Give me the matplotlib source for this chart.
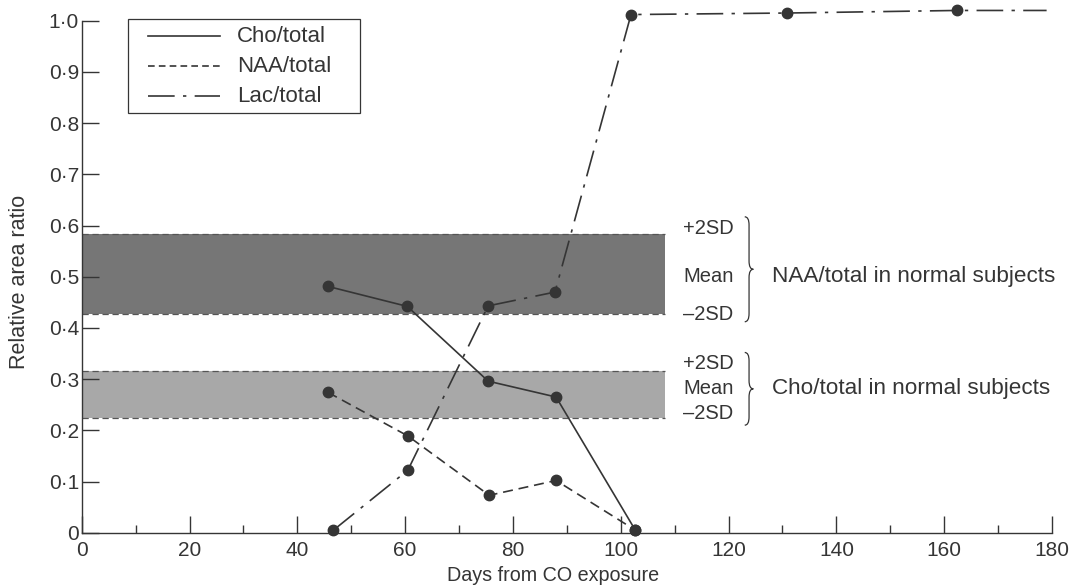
import numpy as np
import matplotlib
matplotlib.use("Agg")
import matplotlib.pyplot as plt
from matplotlib.path import Path
from matplotlib.patches import PathPatch, Rectangle

plt.rcParams['font.family'] = ['Liberation Sans', 'DejaVu Sans']

# values
cho_days = [45.7, 60.4, 75.4, 88.0, 102.7]
cho_vals = [0.481, 0.442, 0.296, 0.265, 0.005]
naa_days = [45.7, 60.5, 75.6, 88.0, 102.7]
naa_vals = [0.274, 0.189, 0.073, 0.102, 0.005]
lac_days = [46.7, 60.5, 75.4, 87.8, 101.9, 130.9, 162.3]
lac_vals = [0.005, 0.122, 0.443, 0.470, 1.012, 1.015, 1.020]
lac_tail_day = 179.0

naa_band = (0.428, 0.583)
cho_band = (0.225, 0.316)
band_end_day = 108.3

series_names = ['Cho/total', 'NAA/total', 'Lac/total']
y_ticks = [0, 0.1, 0.2, 0.3, 0.4, 0.5, 0.6, 0.7, 0.8, 0.9, 1.0]
y_labels = ['0', '0·1', '0·2', '0·3', '0·4', '0·5', '0·6', '0·7', '0·8', '0·9', '1·0']
x_ticks = [0, 20, 40, 60, 80, 100, 120, 140, 160, 180]

ink = '#353535'
lac_dash = (16, 5, 2, 5)
naa_dash = (6, 3.5)

fig = plt.figure(figsize=(10.69, 5.85), dpi=100)
ax = fig.add_axes([81.7 / 1069, 1 - 532.7 / 585, 970.3 / 1069, 512 / 585])
ax.set_xlim(0, 180)
ax.set_ylim(0, 1.0)

# normal ranges
for (lo, hi), col in [(naa_band, '#767676'), (cho_band, '#a8a8a8')]:
    ax.fill_between([0, band_end_day], lo, hi, color=col, lw=0, zorder=1)
    ax.plot([0, band_end_day], [hi, hi], color='#555555', lw=0.9, dashes=(5, 3), zorder=2)
    ax.plot([0, band_end_day], [lo, lo], color='#555555', lw=0.9, dashes=(5, 3), zorder=2)

lw = 1.2
ms = 7.5
ax.plot(cho_days, cho_vals, color=ink, lw=lw, marker='o', ms=ms, clip_on=False, zorder=4)
ax.plot(naa_days, naa_vals, color=ink, lw=lw, marker='o', ms=ms,
        dashes=naa_dash, clip_on=False, zorder=4)
ax.plot(lac_days + [lac_tail_day], lac_vals + [lac_vals[-1]], color=ink, lw=lw,
        dashes=lac_dash, clip_on=False, zorder=4)
ax.plot(lac_days, lac_vals, ls='none', color=ink, marker='o', ms=ms,
        clip_on=False, zorder=5)

# legend box, drawn by hand
ax.add_patch(Rectangle((0.0474, 0.8191), 0.2394, 0.1836, transform=ax.transAxes,
                       fc='white', ec=ink, lw=0.9, clip_on=False, zorder=6))
leg_styles = [dict(), dict(dashes=(4, 2.5)), dict(dashes=lac_dash)]
leg_rows = [0.9701, 0.9115, 0.8529]
for name, style, yy in zip(series_names, leg_styles, leg_rows):
    ax.plot([0.0683, 0.1425], [yy, yy], transform=ax.transAxes, color=ink, lw=lw,
            clip_on=False, zorder=7, **style)
    ax.text(0.160, yy, name, transform=ax.transAxes, fontsize=16, color=ink,
            va='center', zorder=7)


def brace(x, y0, y1, w, d):
    ym = (y0 + y1) / 2
    xm = x + w / 2
    verts = [(x, y1), (xm, y1), (xm, y1 - d), (xm, ym + d), (xm, ym), (x + w, ym),
             (xm, ym), (xm, ym - d), (xm, y0 + d), (xm, y0), (x, y0)]
    codes = [Path.MOVETO, Path.CURVE3, Path.CURVE3, Path.LINETO, Path.CURVE3, Path.CURVE3,
             Path.CURVE3, Path.CURVE3, Path.LINETO, Path.CURVE3, Path.CURVE3]
    ax.add_patch(PathPatch(Path(verts, codes), fill=False, ec=ink, lw=0.9, clip_on=False))


fs_sd = 14.5
fs = 16.2
sd_x = 111.6
ax.text(sd_x, 0.595, '+2SD', fontsize=fs_sd, color=ink, va='center')
ax.text(sd_x, 0.500, 'Mean', fontsize=fs_sd, color=ink, va='center')
ax.text(sd_x, 0.427, '–2SD', fontsize=fs_sd, color=ink, va='center')
brace(123.0, 0.412, 0.617, 1.6, 0.016)
ax.text(128.0, 0.500, 'NAA/total in normal subjects', fontsize=fs, color=ink, va='center')

ax.text(sd_x, 0.331, '+2SD', fontsize=fs_sd, color=ink, va='center')
ax.text(sd_x, 0.282, 'Mean', fontsize=fs_sd, color=ink, va='center')
ax.text(sd_x, 0.233, '–2SD', fontsize=fs_sd, color=ink, va='center')
brace(123.0, 0.210, 0.352, 1.6, 0.016)
ax.text(128.0, 0.282, 'Cho/total in normal subjects', fontsize=fs, color=ink, va='center')

# axes styling
for s in ['top', 'right']:
    ax.spines[s].set_visible(False)
for s in ['left', 'bottom']:
    ax.spines[s].set_color(ink)
    ax.spines[s].set_linewidth(1.0)

ax.set_yticks(y_ticks)
ax.set_yticklabels(y_labels)
ax.set_xticks(x_ticks)
ax.set_xticks(np.arange(10, 180, 20), minor=True)
ax.tick_params(axis='y', direction='in', length=12, width=1.0, color=ink,
               labelsize=15, labelcolor=ink, pad=2)
ax.tick_params(axis='x', which='major', direction='in', length=12, width=1.0, color=ink,
               labelsize=15, labelcolor=ink, pad=6)
ax.tick_params(axis='x', which='minor', direction='in', length=6, width=1.0, color=ink)

ax.set_xlabel('Days from CO exposure', fontsize=14.2, color=ink, va='bottom')
ax.xaxis.set_label_coords(0.486, -0.102)
ax.set_ylabel('Relative area ratio', fontsize=15.5, color=ink)
ax.yaxis.set_label_coords(-0.053, 0.49)

fig.savefig('out.png', dpi=100, facecolor='white')
